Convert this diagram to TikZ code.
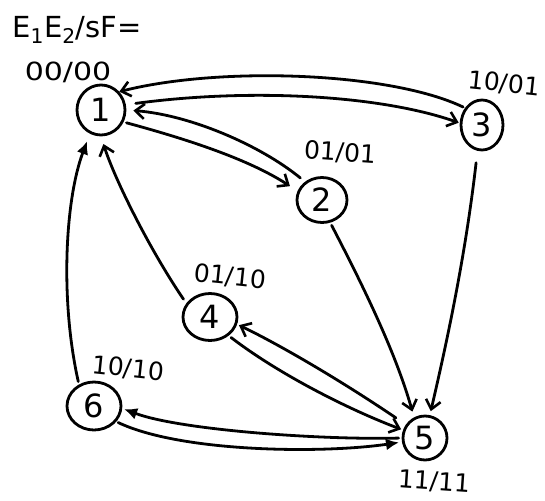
\documentclass[tikz,border=0pt]{standalone}
\usepackage{fontspec}
\setmainfont{DejaVu Sans}
\usetikzlibrary{arrows.meta,shapes.geometric}
\begin{document}
\begin{tikzpicture}[x=1pt,y=-1pt,
  ink/.style={line width=2.8pt, line cap=round, line join=round},
  state/.style={ink, draw, ellipse, inner sep=0pt,
    font=\fontsize{32}{34}\selectfont},
  lbl/.style={font=\fontsize{25}{28}\selectfont, inner sep=0pt},
  edge/.style={ink, -{Straight Barb[length=9pt,width=15pt,line width=2.6pt]}},
  fedge/.style={ink, -{Latex[length=13pt,width=12pt]}}]
\useasboundingbox (0,0) rectangle (545,500);

% states
\node[state, minimum width=48pt, minimum height=50pt] (n1) at (101,110) {1};
\node[state, minimum width=50pt, minimum height=45pt] (n2) at (322,200) {2};
\node[state, minimum width=42pt, minimum height=50pt] (n3) at (482,125) {3};
\node[state, minimum width=54pt, minimum height=47pt] (n4) at (210,317) {4};
\node[state, minimum width=44pt, minimum height=44pt] (n5) at (425,438) {5};
\node[state, minimum width=54pt, minimum height=48pt] (n6) at (94,406) {6};

% outputs per state
\node[lbl, font=\fontsize{29}{32}\selectfont] (head) at (77,30) {E\textsubscript{1}E\textsubscript{2}/sF=};
\node[lbl, xscale=1.2] (o1) at (68,72) {00/00};
\node[lbl, rotate=-6] (o3) at (504,84) {10/01};
\node[lbl, rotate=-4] (o2) at (340,153) {01/01};
\node[lbl, rotate=-6] (o4) at (230,277) {01/10};
\node[lbl, rotate=-6] (o6) at (128,369) {10/10};
\node[lbl, rotate=-4] (o5) at (434,482) {11/11};

% transitions
\draw[edge, shorten <=2pt] (n3.135) .. controls (390,72) and (220,66) .. (n1.45);
\draw[edge, shorten <=10pt, shorten >=1pt] (n1.12) .. controls (250,88) and (380,95) .. (n3.175);
\draw[edge, shorten <=6pt, shorten >=7pt] (n2.133) .. controls (260,145) and (190,115) .. (n1.0);
\draw[edge, shorten <=3pt, shorten >=9pt] (n1.-28) .. controls (190,140) and (250,160) .. (n2.160);
\draw[edge, shorten <=3pt, shorten >=6pt] (n2.-70) .. controls (360,280) and (395,350) .. (n5.118);
\draw[edge, shorten <=12pt, shorten >=4pt] (n3.-100) .. controls (465,260) and (445,350) .. (n5.78);
\draw[edge, shorten <=5pt, shorten >=8pt] (n4.150) .. controls (150,250) and (115,180) .. (n1.-90);
\draw[fedge, shorten <=3pt, shorten >=8pt] (n6.125) .. controls (60,300) and (65,200) .. (n1.-115);
\draw[edge, shorten <=12pt, shorten >=2pt] (n5.145) .. controls (340,380) and (280,345) .. (n4.-15);
\draw[edge, shorten <=3pt, shorten >=2pt] (n4.-45) .. controls (280,375) and (350,410) .. (n5.160);
\draw[fedge, shorten <=3pt, shorten >=2pt] (n5.180) .. controls (320,440) and (180,430) .. (n6.-5);
\draw[fedge, shorten <=2pt, shorten >=3pt] (n6.-35) .. controls (180,452) and (320,454) .. (n5.190);
\end{tikzpicture}
\end{document}
